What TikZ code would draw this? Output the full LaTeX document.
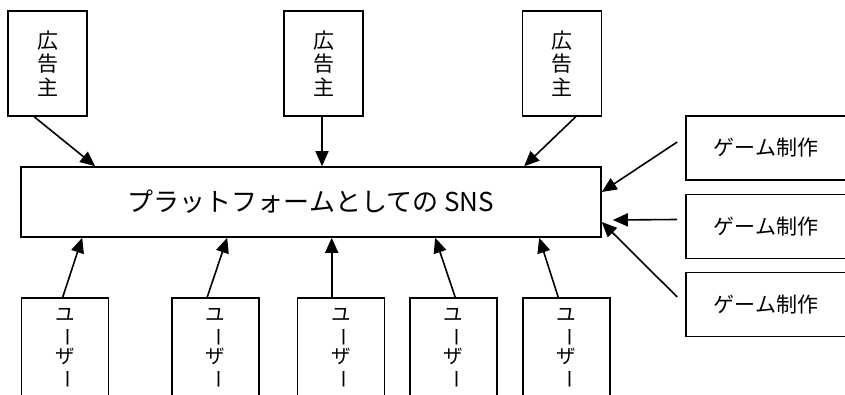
\documentclass[tikz,border=0pt]{standalone}
\usepackage{fontspec}
\usepackage{graphicx}
\newfontfamily\jp{Noto Sans CJK JP}
\usetikzlibrary{arrows.meta}
\newcommand\vbar{\rotatebox[origin=c]{-90}{ー}}
\begin{document}
\begin{tikzpicture}[x=1pt,y=-1pt,
  box/.style={draw,line width=1.6pt,inner sep=0pt,font=\jp},
  adv/.style={box,minimum width=79pt,minimum height=105pt,align=center,font=\jp\fontsize{21}{23.5}\selectfont},
  usr/.style={box,minimum width=87pt,minimum height=102pt,align=center,font=\jp\fontsize{19.5}{20}\selectfont},
  gam/.style={box,minimum width=164pt,minimum height=64pt,font=\jp\fontsize{21}{22}\selectfont},
  arr/.style={line width=1.6pt,-{Triangle[length=15pt,width=13pt]}}]
\useasboundingbox (0,0) rectangle (845,395);
\clip (0,0) rectangle (845,395);
\fill[white] (0,0) rectangle (845,395);
% advertisers
\node[adv] (a1) at (47.5,63.5) {広\\告\\主};
\node[adv] (a2) at (323.5,63.5) {広\\告\\主};
\node[adv] (a3) at (562,63.5) {広\\告\\主};
% platform
\node[box,minimum width=580pt,minimum height=70pt,font=\jp\fontsize{26}{28}\selectfont] (s) at (311,202) {プラットフォームとしての SNS};
% users
\node[usr] (u1) at (65,349) {ユ\\\vbar\\ザ\\\vbar};
\node[usr] (u2) at (215.5,349) {ユ\\\vbar\\ザ\\\vbar};
\node[usr] (u3) at (341,349) {ユ\\\vbar\\ザ\\\vbar};
\node[usr] (u4) at (453.5,349) {ユ\\\vbar\\ザ\\\vbar};
\node[usr] (u5) at (566.5,349) {ユ\\\vbar\\ザ\\\vbar};
% game makers
\node[gam] (g1) at (768,148) {\hspace*{-4pt}ゲーム制作};
\node[gam] (g2) at (768,226.5) {\hspace*{-4pt}ゲーム制作};
\node[gam] (g3) at (768,304.5) {\hspace*{-4pt}ゲーム制作};
% arrows from advertisers
\draw[arr] ([xshift=27pt]a1.south west) -- ([xshift=75pt]s.north west);
\draw[arr] ([xshift=-1.5pt]a2.south) -- ([xshift=-1.5pt]a2.south |- s.north);
\draw[arr] ([xshift=54pt]a3.south west) -- ([xshift=504pt]s.north west);
% arrows from users
\draw[arr] ([xshift=42pt]u1.north west) -- ([xshift=62pt]s.south west);
\draw[arr] ([xshift=36pt]u2.north west) -- ([xshift=207pt]s.south west);
\draw[arr] ([xshift=35pt]u3.north west) -- ([xshift=35pt]u3.north west |- s.south);
\draw[arr] ([xshift=46pt]u4.north west) -- ([xshift=415pt]s.south west);
\draw[arr] ([xshift=36pt]u5.north west) -- ([xshift=519pt]s.south west);
% arrows from game makers
\draw[arr] ([xshift=-8pt,yshift=6pt]g1.west) -- ([yshift=10pt]s.east);
\draw[arr] ([xshift=-8pt,yshift=7pt]g2.west) -- ([xshift=11pt,yshift=-18pt]s.east);
\draw[arr] ([xshift=-8pt,yshift=7.5pt]g3.west) -- ([yshift=-20pt]s.east);
\end{tikzpicture}
\end{document}
